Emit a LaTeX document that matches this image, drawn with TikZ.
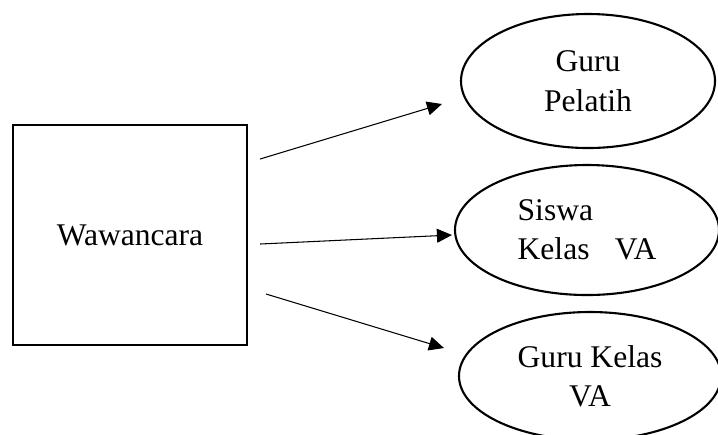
\documentclass[tikz,border=0pt]{standalone}
\usepackage{fontspec}
\setmainfont{Liberation Serif}
\usepackage{tikz}
\usetikzlibrary{positioning}
\usetikzlibrary{shapes.geometric}
\usetikzlibrary{arrows.meta}

\begin{document}
\begin{tikzpicture}[x=0.38pt, y=-0.38pt,
        kotak/.style={draw, line width=0.8pt, minimum width=234*0.38pt, minimum height=220*0.38pt, inner sep=0pt},
        elips/.style={draw, ellipse, line width=0.8pt, inner sep=0pt},
        panah/.style={-{Triangle[length=5.7pt,width=5.3pt]}, line width=0.4pt},
        font=\fontsize{12pt}{15pt}\selectfont]
            \useasboundingbox (0,0) rectangle (718,434);
            \node[kotak] (wc) at (130,235) {Wawancara};
            \node[elips, minimum width=254*0.38pt, minimum height=134*0.38pt, align=center] (gp) at (588,81) {Guru\\Pelatih};
            \node[elips, minimum width=264*0.38pt, minimum height=130*0.38pt, align=left] (sk) at (587,230) {Siswa\\Kelas\hspace{0.8em}VA};
            \node[elips, minimum width=262*0.38pt, minimum height=128*0.38pt, align=center] (gk) at (590,376) {Guru Kelas\\VA};
            \draw[panah] ([shift={(12,-76)}]wc.east) -- ([shift={(-18,23)}]gp.west);
            \draw[panah] ([shift={(12,9)}]wc.east) -- ([shift={(-2,5)}]sk.west);
            \draw[panah] ([shift={(18,59)}]wc.east) -- ([shift={(-14,-28)}]gk.west);
        \end{tikzpicture}
\end{document}
